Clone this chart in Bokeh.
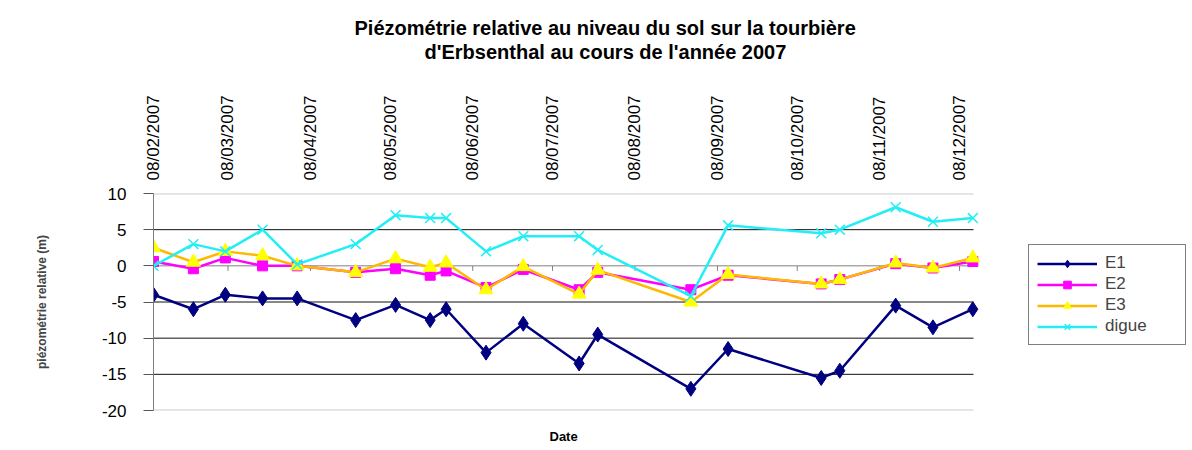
import pandas as pd
from bokeh.plotting import figure
from bokeh.models import (FixedTicker, DatetimeTickFormatter, PrintfTickFormatter,
                          CustomJSTickFormatter, Legend, LegendItem, Title, LinearAxis,
                          Range1d)
from bokeh.embed import file_html
from bokeh.resources import INLINE

# ---- data ----
dates = ["2007-02-08", "2007-02-23", "2007-03-07", "2007-03-21", "2007-04-03",
         "2007-04-25", "2007-05-10", "2007-05-23", "2007-05-29", "2007-06-13",
         "2007-06-27", "2007-07-18", "2007-07-25", "2007-08-29", "2007-09-12",
         "2007-10-17", "2007-10-24", "2007-11-14", "2007-11-28", "2007-12-13"]
e1 = [-4, -6, -4, -4.5, -4.5, -7.5, -5.4, -7.5, -6, -12,
      -8, -13.5, -9.5, -17, -11.5, -15.5, -14.5, -5.5, -8.5, -6]
e2 = [0.6, -0.4, 1.1, 0, 0, -0.9, -0.4, -1.3, -0.7, -3,
      -0.5, -3.3, -0.9, -3.3, -1.3, -2.5, -1.9, 0.3, -0.3, 0.6]
e3 = [2.5, 0.5, 2.0, 1.4, 0, -0.9, 1.0, -0.2, 0.4, -3.3,
      -0.1, -3.9, -0.6, -5.0, -1.2, -2.5, -1.9, 0.4, -0.3, 1.1]
digue = [0, 3, 2, 5, 0.2, 3, 7, 6.6, 6.6, 2,
         4.1, 4.1, 2.2, -4.2, 5.6, 4.5, 5, 8.1, 6.1, 6.6]
tick_dates = ["2007-02-08", "2007-03-08", "2007-04-08", "2007-05-08", "2007-06-08",
              "2007-07-08", "2007-08-08", "2007-09-08", "2007-10-08", "2007-11-08",
              "2007-12-08"]
y_ticks = [-20, -15, -10, -5, 0, 5, 10]
y_grid = [-15, -10, -5, 5]
x_start, x_end = "2007-02-08", "2007-12-13 06:00"
title_line1 = "Piézométrie relative au niveau du sol sur la tourbière"
title_line2 = "d'Erbsenthal au cours de l'année 2007"
x_title = "Date"

x = pd.to_datetime(dates)
tick_x = pd.to_datetime(tick_dates)
tick_ms = [t.value / 1e6 for t in tick_x]

FONT = "Liberation Sans"

# canvas / plot-area geometry (pixels)
W, H = 1192, 450
FL, FR, FT, FB = 153, 973, 193, 410      # visible plot area; frame runs on to W
LEG_L, LEG_B = 1028, 345                 # legend box left / bottom

xs, xe = pd.Timestamp(x_start), pd.Timestamp(x_end)
x_frame_end = xs + (xe - xs) * ((W - FL) / (FR - FL))
y0, y1 = y_ticks[0], y_ticks[-1]

p = figure(width=W, height=H, output_backend="svg", toolbar_location=None,
           x_axis_type="datetime", x_axis_location="above",
           x_range=Range1d(xs, x_frame_end), y_range=Range1d(y0, y1),
           min_border_left=FL, min_border_right=0,
           min_border_top=FT, min_border_bottom=H - FB,
           background_fill_color="white", border_fill_color="white",
           outline_line_color=None)

# horizontal rules of the plot area (limited to the data span)
p.xgrid.visible = False
p.ygrid.visible = False
p.segment(x0=[xs] * len(y_grid), x1=[xe] * len(y_grid), y0=y_grid, y1=y_grid,
          line_color="#111111", line_width=1)
p.segment(x0=[xs, xs], x1=[xe, xe], y0=[y1, y0], y1=[y1, y0],
          line_color="#cccccc", line_width=2)
p.segment(x0=[xs], x1=[xe], y0=[0], y1=[0], line_color="#808080", line_width=1)
p.segment(x0=tick_x, y0=0, x1=tick_x, y1=-0.7, line_color="#808080", line_width=1)

# x axis (top)
xa = p.xaxis[0]
xa.ticker = FixedTicker(ticks=tick_ms)
fmt = "%d/%m/%Y"
xa.formatter = DatetimeTickFormatter(days=fmt, months=fmt, years=fmt, hours=fmt,
                                     hourmin=fmt, minutes=fmt, minsec=fmt, seconds=fmt,
                                     milliseconds=fmt, microseconds=fmt)
xa.major_label_orientation = "vertical"
xa.major_tick_out = 0
xa.major_tick_in = 0
xa.major_label_standoff = 13
xa.major_label_text_font = FONT
xa.major_label_text_font_size = "17px"
xa.major_label_text_color = "black"
xa.axis_line_color = None
xa.major_tick_line_color = None
xa.minor_tick_line_color = None


def spacer(size):
    # an axis with one blank, white tick: it only reserves room in a side panel
    return LinearAxis(ticker=FixedTicker(ticks=[xe.value / 1e6]),
                      formatter=CustomJSTickFormatter(code="return ''"),
                      major_tick_out=size, major_tick_in=0,
                      minor_tick_out=0, minor_tick_in=0, major_label_standoff=0,
                      axis_line_color=None, major_tick_line_color="white",
                      minor_tick_line_color=None)


# title: two centred lines, above a gap
p.add_layout(spacer(30), "above")
p.title.text = ""
p.add_layout(Title(text=title_line2, align="left", offset=271, standoff=0,
                   text_font=FONT, text_font_size="20px", text_font_style="bold",
                   text_color="black"), "above")
p.add_layout(Title(text=title_line1, align="left", offset=201, standoff=0,
                   text_font=FONT, text_font_size="20px", text_font_style="bold",
                   text_color="black"), "above")

# y axis
ya = p.yaxis[0]
ya.ticker = FixedTicker(ticks=y_ticks)
ya.formatter = PrintfTickFormatter(format="%d")
ya.major_tick_out = 10
ya.major_tick_in = 0
ya.minor_tick_line_color = None
ya.axis_line_color = "#808080"
ya.major_tick_line_color = "#555555"
ya.major_label_standoff = 17
ya.major_label_text_font = FONT
ya.major_label_text_font_size = "17px"
ya.major_label_text_color = "black"
ya.axis_label = "piézométrie relative (m)"
ya.axis_label_text_font = FONT
ya.axis_label_text_font_size = "12px"
ya.axis_label_text_font_style = "bold"
ya.axis_label_standoff = 50

# bottom: axis name, centred under the data span
p.add_layout(spacer(16), "below")
p.add_layout(Title(text=x_title, align="left", offset=396, standoff=0,
                   text_font=FONT, text_font_size="13px", text_font_style="bold",
                   text_color="black"), "below")

# series
l1 = p.line(x, e1, line_color="#000080", line_width=2.5)
s1 = p.scatter(x, e1, marker="diamond", size=15, fill_color="#000080", line_color="#000080")
l2 = p.line(x, e2, line_color="#FF00FF", line_width=2.5)
s2 = p.scatter(x, e2, marker="square", size=10, fill_color="#FF00FF", line_color="#FF00FF")
l3 = p.line(x, e3, line_color="#FFB800", line_width=2.5)
s3 = p.scatter(x, e3, marker="triangle", size=14, fill_color="#FFFF00", line_color="#FFFF00")
l4 = p.line(x, digue, line_color="#22EEF5", line_width=2.5)
s4 = p.scatter(x, digue, marker="x", size=14, line_color="#22EEF5", line_width=1.5)

legend = Legend(items=[LegendItem(label="E1", renderers=[l1, s1]),
                       LegendItem(label="E2", renderers=[l2, s2]),
                       LegendItem(label="E3", renderers=[l3, s3]),
                       LegendItem(label="digue", renderers=[l4, s4])],
                location=(LEG_L - FL, FB - LEG_B), orientation="vertical",
                padding=8, spacing=1, margin=0,
                label_height=19, glyph_height=19, glyph_width=60, label_standoff=8,
                label_width=72,
                label_text_font=FONT, label_text_font_size="17px",
                border_line_color="black", border_line_width=1,
                background_fill_color="white", background_fill_alpha=1)
p.add_layout(legend, "center")

open("out.html", "w").write(file_html(p, INLINE))
